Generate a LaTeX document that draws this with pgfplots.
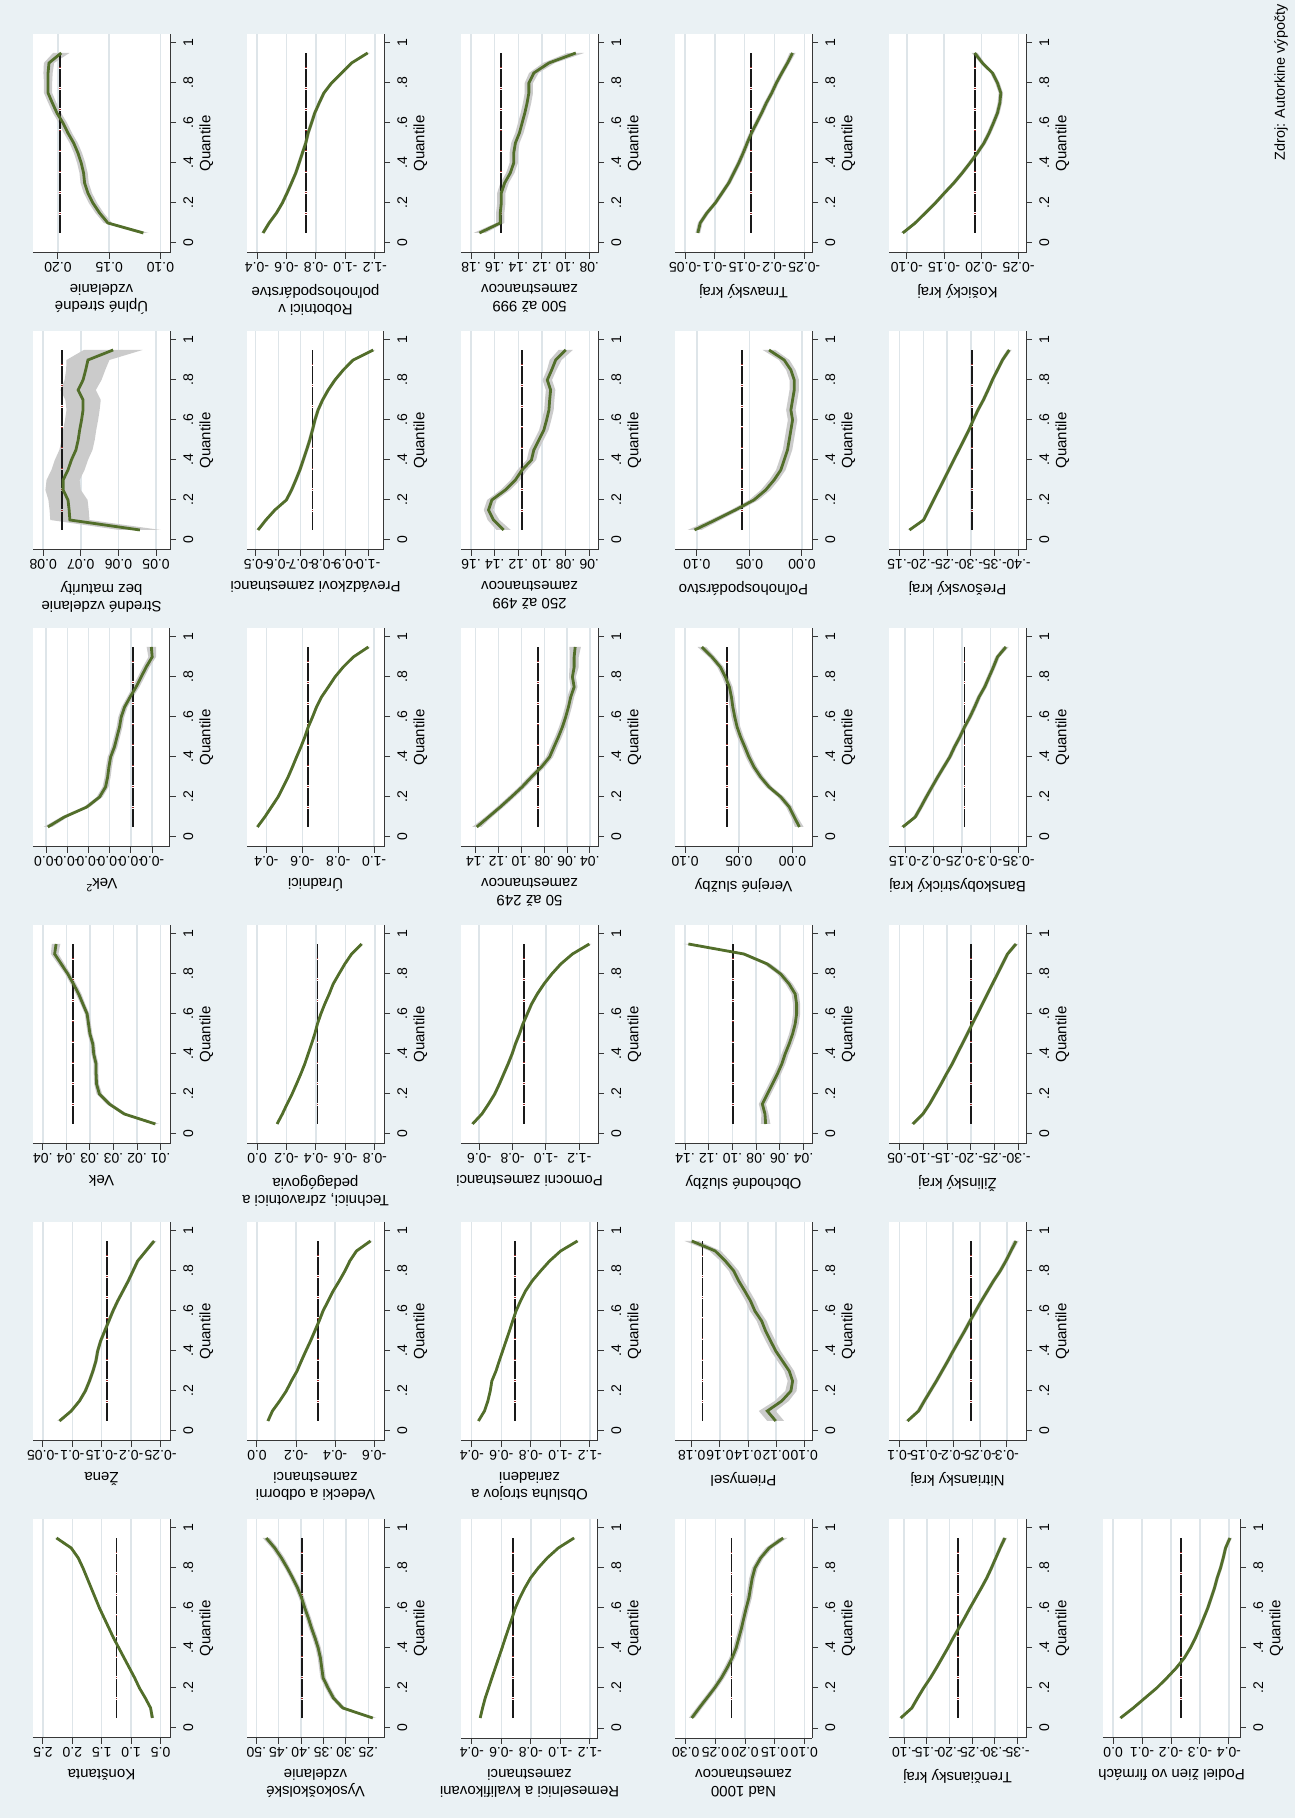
\documentclass[border=0pt]{standalone}
\usepackage{pgfplots}
\pgfplotsset{compat=1.18}
\usepackage{pgfplotstable}
\usepackage{fontspec}
\setmainfont{Liberation Sans}

\definecolor{bgc}{RGB}{234,241,244}
\definecolor{gridc}{RGB}{222,229,233}
\definecolor{axc}{RGB}{55,55,55}
\definecolor{curvec}{RGB}{82,110,42}
\definecolor{bandc}{RGB}{203,203,203}
\definecolor{olsc}{RGB}{25,25,25}
\definecolor{olsdot}{RGB}{150,40,40}

\newcommand\ticksize{\fontsize{7}{8}\selectfont}
\newcommand\labsize{\fontsize{7.5}{8.6}\selectfont}

% quantile-regression coefficients: q = quantile, b = estimate, w = half-width of the band
\pgfplotstableread{
q b w
0.05 0.64 0.03
0.10 0.67 0.02
0.15 0.76 0.015
0.20 0.86 0.015
0.25 0.94 0.015
0.30 1.03 0.015
0.35 1.12 0.015
0.40 1.21 0.015
0.45 1.30 0.015
0.50 1.38 0.015
0.55 1.46 0.015
0.60 1.54 0.015
0.65 1.61 0.015
0.70 1.68 0.015
0.75 1.75 0.015
0.80 1.82 0.02
0.85 1.90 0.02
0.90 2.02 0.025
0.95 2.27 0.03
}\tKonst
\pgfplotstableread{
q b w
0.05 -0.078 0.004
0.10 -0.098 0.003
0.15 -0.112 0.003
0.20 -0.122 0.003
0.25 -0.129 0.003
0.30 -0.135 0.003
0.35 -0.140 0.003
0.40 -0.143 0.003
0.45 -0.148 0.003
0.50 -0.155 0.003
0.55 -0.162 0.003
0.60 -0.169 0.003
0.65 -0.177 0.003
0.70 -0.186 0.003
0.75 -0.195 0.003
0.80 -0.203 0.003
0.85 -0.211 0.003
0.90 -0.225 0.003
0.95 -0.239 0.004
}\tZena
\pgfplotstableread{
q b w
0.05 0.0161 0.0008
0.10 0.0227 0.0006
0.15 0.0259 0.0006
0.20 0.0280 0.0006
0.25 0.0286 0.0005
0.30 0.0287 0.0005
0.35 0.0287 0.0005
0.40 0.0292 0.0005
0.45 0.0294 0.0005
0.50 0.0300 0.0005
0.55 0.0303 0.0005
0.60 0.0306 0.0005
0.65 0.0315 0.0005
0.70 0.0324 0.0006
0.75 0.0335 0.0006
0.80 0.0347 0.0006
0.85 0.0361 0.0007
0.90 0.0375 0.0008
0.95 0.0372 0.0009
}\tVek
\pgfplotstableread{
q b w
0.05 -0.000154 0.000010
0.10 -0.000193 0.000008
0.15 -0.000246 0.000007
0.20 -0.000276 0.000007
0.25 -0.000290 0.000007
0.30 -0.000295 0.000007
0.35 -0.000298 0.000007
0.40 -0.000302 0.000007
0.45 -0.000311 0.000007
0.50 -0.000317 0.000007
0.55 -0.000323 0.000007
0.60 -0.000327 0.000007
0.65 -0.000335 0.000007
0.70 -0.000348 0.000007
0.75 -0.000362 0.000008
0.80 -0.000374 0.000008
0.85 -0.000386 0.000008
0.90 -0.000400 0.000009
0.95 -0.000398 0.000011
}\tVekSq
\pgfplotstableread{
q b w
0.05 0.0543 0.0055
0.10 0.0729 0.0052
0.15 0.0731 0.0052
0.20 0.0734 0.0052
0.25 0.0747 0.0047
0.30 0.0747 0.0044
0.35 0.0734 0.0044
0.40 0.0725 0.0044
0.45 0.0713 0.0044
0.50 0.0707 0.0044
0.55 0.0703 0.0044
0.60 0.0698 0.0044
0.65 0.0694 0.0044
0.70 0.0694 0.0047
0.75 0.0707 0.0047
0.80 0.0694 0.0049
0.85 0.0687 0.0052
0.90 0.0681 0.0057
0.95 0.0614 0.0078
}\tStrBez
\pgfplotstableread{
q b w
0.05 0.1166 0.005
0.10 0.1513 0.004
0.15 0.1594 0.004
0.20 0.1659 0.004
0.25 0.1708 0.004
0.30 0.1740 0.004
0.35 0.1750 0.004
0.40 0.1773 0.004
0.45 0.1805 0.004
0.50 0.1847 0.004
0.55 0.1903 0.004
0.60 0.1951 0.004
0.65 0.2010 0.004
0.70 0.2055 0.004
0.75 0.2097 0.004
0.80 0.2097 0.004
0.85 0.2097 0.0045
0.90 0.2088 0.005
0.95 0.1968 0.008
}\tUplne
\pgfplotstableread{
q b w
0.05 0.240 0.008
0.10 0.307 0.006
0.15 0.328 0.006
0.20 0.340 0.006
0.25 0.351 0.006
0.30 0.354 0.006
0.35 0.357 0.006
0.40 0.362 0.006
0.45 0.369 0.006
0.50 0.377 0.006
0.55 0.384 0.006
0.60 0.392 0.006
0.65 0.399 0.006
0.70 0.408 0.006
0.75 0.419 0.006
0.80 0.431 0.006
0.85 0.444 0.007
0.90 0.459 0.007
0.95 0.478 0.008
}\tVysoko
\pgfplotstableread{
q b w
0.05 -0.056 0.008
0.10 -0.079 0.008
0.15 -0.116 0.008
0.20 -0.150 0.008
0.25 -0.176 0.008
0.30 -0.205 0.008
0.35 -0.227 0.008
0.40 -0.250 0.008
0.45 -0.274 0.008
0.50 -0.296 0.008
0.55 -0.318 0.008
0.60 -0.338 0.008
0.65 -0.364 0.008
0.70 -0.390 0.008
0.75 -0.421 0.008
0.80 -0.450 0.008
0.85 -0.475 0.008
0.90 -0.509 0.009
0.95 -0.581 0.010
}\tVedecki
\pgfplotstableread{
q b w
0.05 -0.136 0.008
0.10 -0.172 0.008
0.15 -0.204 0.008
0.20 -0.238 0.008
0.25 -0.268 0.008
0.30 -0.297 0.008
0.35 -0.324 0.008
0.40 -0.347 0.008
0.45 -0.370 0.008
0.50 -0.392 0.008
0.55 -0.410 0.008
0.60 -0.433 0.008
0.65 -0.460 0.008
0.70 -0.490 0.008
0.75 -0.517 0.008
0.80 -0.556 0.008
0.85 -0.596 0.008
0.90 -0.642 0.009
0.95 -0.710 0.010
}\tTechnici
\pgfplotstableread{
q b w
0.05 -0.350 0.008
0.10 -0.391 0.008
0.15 -0.428 0.008
0.20 -0.465 0.008
0.25 -0.493 0.008
0.30 -0.521 0.008
0.35 -0.545 0.008
0.40 -0.568 0.008
0.45 -0.592 0.008
0.50 -0.614 0.008
0.55 -0.633 0.008
0.60 -0.657 0.008
0.65 -0.679 0.008
0.70 -0.707 0.008
0.75 -0.745 0.008
0.80 -0.782 0.008
0.85 -0.828 0.008
0.90 -0.884 0.009
0.95 -0.968 0.010
}\tUradnici
\pgfplotstableread{
q b w
0.05 -0.510 0.008
0.10 -0.545 0.008
0.15 -0.585 0.008
0.20 -0.636 0.008
0.25 -0.659 0.008
0.30 -0.678 0.008
0.35 -0.696 0.008
0.40 -0.711 0.008
0.45 -0.726 0.008
0.50 -0.740 0.008
0.55 -0.752 0.008
0.60 -0.763 0.008
0.65 -0.777 0.008
0.70 -0.797 0.008
0.75 -0.822 0.008
0.80 -0.852 0.008
0.85 -0.889 0.008
0.90 -0.933 0.009
0.95 -1.022 0.010
}\tPrevadz
\pgfplotstableread{
q b w
0.05 -0.441 0.012
0.10 -0.482 0.012
0.15 -0.532 0.012
0.20 -0.572 0.012
0.25 -0.604 0.012
0.30 -0.634 0.012
0.35 -0.663 0.012
0.40 -0.686 0.012
0.45 -0.708 0.012
0.50 -0.731 0.012
0.55 -0.747 0.012
0.60 -0.770 0.012
0.65 -0.792 0.012
0.70 -0.822 0.012
0.75 -0.854 0.012
0.80 -0.906 0.012
0.85 -0.974 0.012
0.90 -1.042 0.013
0.95 -1.151 0.015
}\tRobotnici
\pgfplotstableread{
q b w
0.05 -0.457 0.008
0.10 -0.473 0.008
0.15 -0.491 0.008
0.20 -0.514 0.008
0.25 -0.536 0.008
0.30 -0.559 0.008
0.35 -0.582 0.008
0.40 -0.605 0.008
0.45 -0.627 0.008
0.50 -0.650 0.008
0.55 -0.673 0.008
0.60 -0.695 0.008
0.65 -0.725 0.008
0.70 -0.759 0.008
0.75 -0.798 0.008
0.80 -0.850 0.008
0.85 -0.911 0.008
0.90 -0.986 0.009
0.95 -1.093 0.010
}\tRemesel
\pgfplotstableread{
q b w
0.05 -0.445 0.008
0.10 -0.486 0.008
0.15 -0.509 0.008
0.20 -0.525 0.008
0.25 -0.536 0.008
0.30 -0.564 0.008
0.35 -0.586 0.008
0.40 -0.609 0.008
0.45 -0.632 0.008
0.50 -0.655 0.008
0.55 -0.677 0.008
0.60 -0.700 0.008
0.65 -0.730 0.008
0.70 -0.764 0.008
0.75 -0.809 0.008
0.80 -0.866 0.008
0.85 -0.927 0.008
0.90 -1.002 0.009
0.95 -1.116 0.010
}\tObsluha
\pgfplotstableread{
q b w
0.05 -0.560 0.010
0.10 -0.616 0.010
0.15 -0.656 0.010
0.20 -0.693 0.010
0.25 -0.721 0.010
0.30 -0.747 0.010
0.35 -0.773 0.010
0.40 -0.797 0.010
0.45 -0.817 0.010
0.50 -0.841 0.010
0.55 -0.862 0.010
0.60 -0.888 0.010
0.65 -0.914 0.010
0.70 -0.948 0.010
0.75 -0.988 0.010
0.80 -1.035 0.010
0.85 -1.089 0.010
0.90 -1.159 0.011
0.95 -1.260 0.012
}\tPomocni
\pgfplotstableread{
q b w
0.05 0.1391 0.004
0.10 0.1288 0.003
0.15 0.1185 0.003
0.20 0.1088 0.003
0.25 0.0994 0.003
0.30 0.0912 0.003
0.35 0.0824 0.003
0.40 0.0753 0.003
0.45 0.0715 0.003
0.50 0.0676 0.003
0.55 0.0641 0.003
0.60 0.0612 0.003
0.65 0.0588 0.003
0.70 0.0568 0.003
0.75 0.0538 0.003
0.80 0.0553 0.003
0.85 0.0538 0.004
0.90 0.0538 0.004
0.95 0.0529 0.005
}\tFiftyTwo
\pgfplotstableread{
q b w
0.05 0.1324 0.006
0.10 0.1410 0.005
0.15 0.1452 0.004
0.20 0.1424 0.004
0.25 0.1310 0.004
0.30 0.1225 0.004
0.35 0.1168 0.004
0.40 0.1089 0.004
0.45 0.1069 0.004
0.50 0.1026 0.004
0.55 0.0984 0.004
0.60 0.0961 0.004
0.65 0.0941 0.004
0.70 0.0935 0.004
0.75 0.0927 0.004
0.80 0.0955 0.004
0.85 0.0918 0.004
0.90 0.0884 0.005
0.95 0.0799 0.006
}\tTwoFifty
\pgfplotstableread{
q b w
0.05 0.1729 0.005
0.10 0.1553 0.0035
0.15 0.1553 0.0035
0.20 0.1544 0.0035
0.25 0.1544 0.0035
0.30 0.1516 0.0035
0.35 0.1468 0.0035
0.40 0.1439 0.0035
0.45 0.1439 0.0035
0.50 0.1425 0.0035
0.55 0.1391 0.0035
0.60 0.1368 0.0035
0.65 0.1345 0.0035
0.70 0.1326 0.0035
0.75 0.1311 0.0035
0.80 0.1311 0.0035
0.85 0.1269 0.004
0.90 0.1141 0.005
0.95 0.0914 0.007
}\tFiveHund
\pgfplotstableread{
q b w
0.05 0.2898 0.005
0.10 0.2773 0.005
0.15 0.2643 0.005
0.20 0.2513 0.005
0.25 0.2399 0.005
0.30 0.2303 0.005
0.35 0.2218 0.005
0.40 0.2150 0.005
0.45 0.2105 0.005
0.50 0.2059 0.005
0.55 0.2020 0.005
0.60 0.1980 0.005
0.65 0.1935 0.005
0.70 0.1907 0.005
0.75 0.1878 0.005
0.80 0.1833 0.005
0.85 0.1737 0.005
0.90 0.1595 0.006
0.95 0.1357 0.007
}\tNadTis
\pgfplotstableread{
q b w
0.05 0.1203 0.006
0.10 0.1263 0.006
0.15 0.1160 0.005
0.20 0.1095 0.004
0.25 0.1083 0.0035
0.30 0.1107 0.0035
0.35 0.1155 0.0035
0.40 0.1203 0.0035
0.45 0.1239 0.0035
0.50 0.1275 0.0035
0.55 0.1303 0.0035
0.60 0.1351 0.0035
0.65 0.1382 0.0035
0.70 0.1423 0.0035
0.75 0.1466 0.0035
0.80 0.1501 0.0035
0.85 0.1561 0.0035
0.90 0.1633 0.004
0.95 0.1800 0.005
}\tPriemysel
\pgfplotstableread{
q b w
0.05 0.0720 0.004
0.10 0.0726 0.003
0.15 0.0748 0.003
0.20 0.0706 0.003
0.25 0.0663 0.003
0.30 0.0621 0.003
0.35 0.0584 0.003
0.40 0.0556 0.003
0.45 0.0522 0.003
0.50 0.0493 0.003
0.55 0.0471 0.003
0.60 0.0459 0.003
0.65 0.0459 0.003
0.70 0.0471 0.003
0.75 0.0522 0.003
0.80 0.0593 0.003
0.85 0.0706 0.003
0.90 0.0904 0.003
0.95 0.1372 0.004
}\tObchodne
\pgfplotstableread{
q b w
0.05 -0.0063 0.004
0.10 -0.0016 0.003
0.15 0.0031 0.003
0.20 0.0109 0.003
0.25 0.0219 0.003
0.30 0.0297 0.003
0.35 0.0359 0.003
0.40 0.0406 0.003
0.45 0.0444 0.003
0.50 0.0484 0.003
0.55 0.0516 0.003
0.60 0.0538 0.003
0.65 0.0556 0.003
0.70 0.0569 0.003
0.75 0.0588 0.003
0.80 0.0625 0.003
0.85 0.0672 0.003
0.90 0.0750 0.003
0.95 0.0844 0.004
}\tVerejne
\pgfplotstableread{
q b w
0.05 0.1022 0.0065
0.10 0.0824 0.005
0.15 0.0633 0.0045
0.20 0.0457 0.0045
0.25 0.0345 0.0045
0.30 0.0265 0.0045
0.35 0.0201 0.0045
0.40 0.0169 0.0045
0.45 0.0137 0.0045
0.50 0.0121 0.0045
0.55 0.0105 0.0045
0.60 0.0089 0.0045
0.65 0.0105 0.0045
0.70 0.0089 0.0045
0.75 0.0073 0.0045
0.80 0.0073 0.0045
0.85 0.0105 0.0045
0.90 0.0169 0.005
0.95 0.0313 0.006
}\tPolno
\pgfplotstableread{
q b w
0.05 -0.0714 0.004
0.10 -0.0754 0.004
0.15 -0.0866 0.004
0.20 -0.1007 0.004
0.25 -0.1120 0.004
0.30 -0.1232 0.004
0.35 -0.1317 0.004
0.40 -0.1401 0.004
0.45 -0.1475 0.004
0.50 -0.1542 0.004
0.55 -0.1615 0.004
0.60 -0.1700 0.004
0.65 -0.1785 0.004
0.70 -0.1863 0.004
0.75 -0.1954 0.004
0.80 -0.2032 0.004
0.85 -0.2123 0.004
0.90 -0.2218 0.004
0.95 -0.2303 0.005
}\tTrnava
\pgfplotstableread{
q b w
0.05 -0.0926 0.004
0.10 -0.1170 0.004
0.15 -0.1296 0.004
0.20 -0.1429 0.004
0.25 -0.1577 0.004
0.30 -0.1710 0.004
0.35 -0.1836 0.004
0.40 -0.1962 0.004
0.45 -0.2080 0.004
0.50 -0.2206 0.004
0.55 -0.2331 0.004
0.60 -0.2450 0.004
0.65 -0.2575 0.004
0.70 -0.2701 0.004
0.75 -0.2820 0.004
0.80 -0.2923 0.004
0.85 -0.3019 0.004
0.90 -0.3115 0.004
0.95 -0.3219 0.005
}\tTrencin
\pgfplotstableread{
q b w
0.05 -0.1150 0.004
0.10 -0.1356 0.004
0.15 -0.1463 0.004
0.20 -0.1575 0.004
0.25 -0.1688 0.004
0.30 -0.1794 0.004
0.35 -0.1900 0.004
0.40 -0.2000 0.004
0.45 -0.2106 0.004
0.50 -0.2213 0.004
0.55 -0.2313 0.004
0.60 -0.2419 0.004
0.65 -0.2525 0.004
0.70 -0.2638 0.004
0.75 -0.2750 0.004
0.80 -0.2875 0.004
0.85 -0.2981 0.004
0.90 -0.3075 0.004
0.95 -0.3169 0.005
}\tNitra
\pgfplotstableread{
q b w
0.05 -0.0782 0.004
0.10 -0.0993 0.004
0.15 -0.1134 0.004
0.20 -0.1254 0.004
0.25 -0.1373 0.004
0.30 -0.1486 0.004
0.35 -0.1606 0.004
0.40 -0.1711 0.004
0.45 -0.1817 0.004
0.50 -0.1923 0.004
0.55 -0.2028 0.004
0.60 -0.2134 0.004
0.65 -0.2239 0.004
0.70 -0.2345 0.004
0.75 -0.2451 0.004
0.80 -0.2556 0.004
0.85 -0.2662 0.004
0.90 -0.2768 0.004
0.95 -0.2944 0.005
}\tZilina
\pgfplotstableread{
q b w
0.05 -0.1459 0.004
0.10 -0.1678 0.004
0.15 -0.1778 0.004
0.20 -0.1873 0.004
0.25 -0.1973 0.004
0.30 -0.2074 0.004
0.35 -0.2180 0.004
0.40 -0.2287 0.004
0.45 -0.2370 0.004
0.50 -0.2464 0.004
0.55 -0.2547 0.004
0.60 -0.2642 0.004
0.65 -0.2725 0.004
0.70 -0.2802 0.004
0.75 -0.2902 0.004
0.80 -0.2979 0.004
0.85 -0.3056 0.004
0.90 -0.3127 0.004
0.95 -0.3275 0.005
}\tBBystrica
\pgfplotstableread{
q b w
0.05 -0.1711 0.004
0.10 -0.2007 0.004
0.15 -0.2113 0.004
0.20 -0.2218 0.004
0.25 -0.2324 0.004
0.30 -0.2430 0.004
0.35 -0.2535 0.004
0.40 -0.2641 0.004
0.45 -0.2746 0.004
0.50 -0.2852 0.004
0.55 -0.2958 0.004
0.60 -0.3049 0.004
0.65 -0.3148 0.004
0.70 -0.3261 0.004
0.75 -0.3359 0.004
0.80 -0.3451 0.004
0.85 -0.3556 0.004
0.90 -0.3662 0.004
0.95 -0.3803 0.005
}\tPresov
\pgfplotstableread{
q b w
0.05 -0.0946 0.003
0.10 -0.1113 0.003
0.15 -0.1248 0.003
0.20 -0.1383 0.003
0.25 -0.1505 0.003
0.30 -0.1631 0.003
0.35 -0.1743 0.003
0.40 -0.1847 0.003
0.45 -0.1946 0.003
0.50 -0.2036 0.003
0.55 -0.2104 0.003
0.60 -0.2162 0.003
0.65 -0.2216 0.003
0.70 -0.2248 0.003
0.75 -0.2261 0.003
0.80 -0.2216 0.003
0.85 -0.2149 0.003
0.90 -0.2014 0.003
0.95 -0.1910 0.004
}\tKosice
\pgfplotstableread{
q b w
0.05 -0.0255 0.006
0.10 -0.0696 0.006
0.15 -0.1101 0.006
0.20 -0.1507 0.006
0.25 -0.1855 0.006
0.30 -0.2180 0.006
0.35 -0.2458 0.006
0.40 -0.2667 0.006
0.45 -0.2841 0.006
0.50 -0.2991 0.006
0.55 -0.3130 0.006
0.60 -0.3270 0.006
0.65 -0.3386 0.006
0.70 -0.3501 0.006
0.75 -0.3594 0.006
0.80 -0.3710 0.006
0.85 -0.3803 0.006
0.90 -0.3884 0.006
0.95 -0.4035 0.007
}\tPodiel

% the OLS line spans the same quantile range as the estimates
\pgfplotstableread{
q
0.05
0.95
}\tOlsSpan

\pgfplotsset{
  qbase/.style={
    anchor=south west,
    scale only axis, width=68.5pt, height=109.5pt,
    ymin=-0.05, ymax=1.045,
    scaled x ticks=false, scaled y ticks=false,
  },
  % lower layer: white plot region, grid lines and the confidence band
  qband/.style={qbase,
    axis background/.style={fill=white},
    axis line style={draw=none}, tick style={draw=none},
    xmajorgrids, major grid style={draw=gridc, line width=0.7pt},
    xticklabels={}, ytick=\empty,
    stack plots=x,
  },
  % upper layer: axes, ticks, labels, OLS line and estimates
  qpanel/.style={qbase,
    axis x line*=bottom, axis y line*=right,
    axis line style={draw=axc, line width=0.5pt},
    tick style={draw=axc, line width=0.5pt},
    tick align=outside, major tick length=3pt,
    ytick={0,0.2,0.4,0.6,0.8,1}, yticklabels={0,.2,.4,.6,.8,1},
    xticklabel style={rotate=180, anchor=south, font=\ticksize, inner sep=0pt},
    yticklabel style={rotate=90, anchor=north, font=\ticksize, inner sep=0pt},
    xticklabel shift=1.5pt, yticklabel shift=3.5pt,
    clip mode=individual,
  }
}

% #1 column, #2 row from the top, #3/#4 axis limits (negated scale),
% #5 tick positions (negated), #6 tick labels, #7 title, #8 table, #9 OLS estimate
\newcommand\qpanel[9]{%
\begin{axis}[qband,
  at={({16.5pt+107pt*#1},{782.5pt-148.5pt*#2})},
  xmin=#3, xmax=#4, xtick={#5}]
  \addplot[draw=none] table[x expr={0-(\thisrow{b}+\thisrow{w})}, y=q] {#8};
  \addplot[fill=bandc, draw=none] table[x expr={2*\thisrow{w}}, y=q] {#8} \closedcycle;
\end{axis}
\begin{axis}[qpanel,
  at={({16.5pt+107pt*#1},{782.5pt-148.5pt*#2})},
  xmin=#3, xmax=#4, xtick={#5}, xticklabels={#6}]
  \addplot[olsdot, line width=0.9pt, dash pattern=on 0.5pt off 9.9pt, dash phase=0.85pt]
    table[x expr={0-(#9)}, y=q] {\tOlsSpan};
  \addplot[olsc, line width=0.9pt, dash pattern=on 9.2pt off 1.2pt]
    table[x expr={0-(#9)}, y=q] {\tOlsSpan};
  \addplot[curvec, line width=1.4pt] table[x expr={0-\thisrow{b}}, y=q] {#8};
  \node[rotate=180, anchor=south, inner sep=0pt, align=center, font=\labsize]
    at ([yshift=-15.5pt]rel axis cs:0.5,0) {#7};
  \node[rotate=90, anchor=north, inner sep=0pt, font=\labsize]
    at ([xshift=14.5pt]rel axis cs:1,0.5) {Quantile};
\end{axis}}

\begin{document}
\begin{tikzpicture}
\fill[bgc] (0,0) rectangle (647.5pt,909pt);
\useasboundingbox (0,0) rectangle (647.5pt,909pt);

% first row of the grid
\qpanel{0}{5}{-2.67}{-0.34}{-2.5,-2,-1.5,-1,-0.5}{2.5,2.0,1.5,1.0,0.5}{Konštanta}{\tKonst}{1.25}
\qpanel{0}{4}{0.033}{0.266}{0.05,0.1,0.15,0.2,0.25}{-0.05,-0.1,-0.15,-0.2,-0.25}{Žena}{\tZena}{-0.159}
\qpanel{0}{3}{-0.0421}{-0.0130}{-0.04,-0.035,-0.03,-0.025,-0.02,-0.015}{.04,.04,.03,.03,.02,.01}{Vek}{\tVek}{0.0336}
\qpanel{0}{2}{0.000119}{0.000442}{0.00015,0.0002,0.00025,0.0003,0.00035,0.0004}{-0.0,-0.0,-0.0,-0.0,-0.0,-0.0}{Vek\textsuperscript{2}}{\tVekSq}{-0.000354}
\qpanel{0}{1}{-0.0827}{-0.0463}{-0.08,-0.07,-0.06,-0.05}{0.08,0.07,0.06,0.05}{Stredné vzdelanie\\bez maturity}{\tStrBez}{0.0751}
\qpanel{0}{0}{-0.2244}{-0.0906}{-0.2,-0.15,-0.1}{0.20,0.15,0.10}{Úplné stredné\\vzdelanie}{\tUplne}{0.1977}

% second row
\qpanel{1}{5}{-0.521}{-0.215}{-0.5,-0.45,-0.4,-0.35,-0.3,-0.25}{.50,.45,.40,.35,.30,.25}{Vysokoškolské\\vzdelanie}{\tVysoko}{0.399}
\qpanel{1}{4}{-0.051}{0.650}{0,0.2,0.4,0.6}{0.0,-0.2,-0.4,-0.6}{Vedecki a odborni\\zamestnanci}{\tVedecki}{-0.313}
\qpanel{1}{3}{-0.068}{0.862}{0,0.2,0.4,0.6,0.8}{0.0,-0.2,-0.4,-0.6,-0.8}{Technici, zdravotnici a\\pedagógovia}{\tTechnici}{-0.410}
\qpanel{1}{2}{0.292}{1.055}{0.4,0.6,0.8,1.0}{-0.4,-0.6,-0.8,-1.0}{Úradnici}{\tUradnici}{-0.633}
\qpanel{1}{1}{0.461}{1.070}{0.5,0.6,0.7,0.8,0.9,1.0}{-0.5,-0.6,-0.7,-0.8,-0.9,-1.0}{Prevádzkovi zamestnanci}{\tPrevadz}{-0.752}
\qpanel{1}{0}{0.332}{1.262}{0.4,0.6,0.8,1.0,1.2}{-0.4,-0.6,-0.8,-1.0,-1.2}{Robotnici v\\poľnohospodárstve}{\tRobotnici}{-0.731}

% third row
\qpanel{2}{5}{0.327}{1.255}{0.4,0.6,0.8,1.0,1.2}{-0.4,-0.6,-0.8,-1.0,-1.2}{Remeselnici a kvalifikovani\\zamestnanci}{\tRemesel}{-0.677}
\qpanel{2}{4}{0.327}{1.255}{0.4,0.6,0.8,1.0,1.2}{-0.4,-0.6,-0.8,-1.0,-1.2}{Obsluha strojov a\\zariadeni}{\tObsluha}{-0.691}
\qpanel{2}{3}{0.491}{1.312}{0.6,0.8,1.0,1.2}{-0.6,-0.8,-1.0,-1.2}{Pomocni zamestnanci}{\tPomocni}{-0.868}
\qpanel{2}{2}{-0.1529}{-0.0329}{-0.14,-0.12,-0.1,-0.08,-0.06,-0.04}{.14,.12,.10,.08,.06,.04}{50 až 249\\zamestnancov}{\tFiftyTwo}{0.0853}
\qpanel{2}{1}{-0.1685}{-0.0526}{-0.16,-0.14,-0.12,-0.1,-0.08,-0.06}{.16,.14,.12,.10,.08,.06}{250 až 499\\zamestnancov}{\tTwoFifty}{0.1168}
\qpanel{2}{0}{-0.1885}{-0.0726}{-0.18,-0.16,-0.14,-0.12,-0.1,-0.08}{.18,.16,.14,.12,.10,.08}{500 až 999\\zamestnancov}{\tFiveHund}{0.1544}

% fourth row
\qpanel{3}{5}{-0.3181}{-0.0870}{-0.3,-0.25,-0.2,-0.15,-0.1}{0.30,0.25,0.20,0.15,0.10}{Nad 1000\\zamestnancov}{\tNadTis}{0.2229}
\qpanel{3}{4}{-0.1919}{-0.0945}{-0.18,-0.16,-0.14,-0.12,-0.1}{0.18,0.16,0.14,0.12,0.10}{Priemysel}{\tPriemysel}{0.1724}
\qpanel{3}{3}{-0.1485}{-0.0329}{-0.14,-0.12,-0.1,-0.08,-0.06,-0.04}{.14,.12,.10,.08,.06,.04}{Obchodné služby}{\tObchodne}{0.0995}
\qpanel{3}{2}{-0.1094}{0.0181}{-0.1,-0.05,0}{0.10,0.05,0.00}{Verejné služby}{\tVerejne}{0.0609}
\qpanel{3}{1}{-0.1208}{0.0096}{-0.1,-0.05,0}{0.10,0.05,0.00}{Poľnohospodárstvo}{\tPolno}{0.0569}
\qpanel{3}{0}{0.0331}{0.2630}{0.05,0.1,0.15,0.2,0.25}{-0.05,-0.1,-0.15,-0.2,-0.25}{Trnavský kraj}{\tTrnava}{-0.160}

% fifth row
\qpanel{4}{5}{0.0667}{0.3685}{0.1,0.15,0.2,0.25,0.3,0.35}{-.10,-.15,-.20,-.25,-.30,-.35}{Trenčiansky kraj}{\tTrencin}{-0.2183}
\qpanel{4}{4}{0.0806}{0.3356}{0.1,0.15,0.2,0.25,0.3}{-0.1,-0.15,-0.2,-0.25,-0.3}{Nitriansky kraj}{\tNitra}{-0.2325}
\qpanel{4}{3}{0.0282}{0.3155}{0.05,0.1,0.15,0.2,0.25,0.3}{-.05,-.10,-.15,-.20,-.25,-.30}{Žilinský kraj}{\tZilina}{-0.1993}
\qpanel{4}{2}{0.1216}{0.3630}{0.15,0.2,0.25,0.3,0.35}{-0.15,-0.2,-0.25,-0.3,-0.35}{Banskobystrický kraj}{\tBBystrica}{-0.2547}
\qpanel{4}{1}{0.1282}{0.4155}{0.15,0.2,0.25,0.3,0.35,0.4}{-.15,-.20,-.25,-.30,-.35,-.40}{Prešovský kraj}{\tPresov}{-0.3028}
\qpanel{4}{0}{0.0761}{0.2599}{0.1,0.15,0.2,0.25}{-0.10,-0.15,-0.20,-0.25}{Košický kraj}{\tKosice}{-0.191}

% last row
\qpanel{5}{5}{-0.0348}{0.4383}{0,0.1,0.2,0.3,0.4}{0.0,-0.1,-0.2,-0.3,-0.4}{Podiel žien vo firmách}{\tPodiel}{-0.2354}

\node[rotate=90, anchor=east, inner sep=0pt, font=\fontsize{7.2}{8.6}\selectfont]
  at (640.5pt,907pt) {Zdroj: Autorkine výpočty};
\end{tikzpicture}
\end{document}
